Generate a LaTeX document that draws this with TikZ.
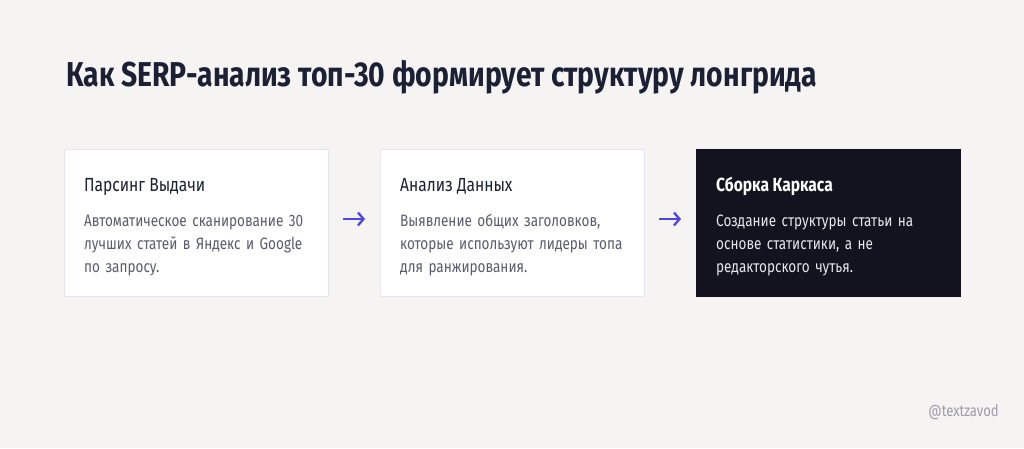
\documentclass[tikz,border=0pt]{standalone}
\usepackage{fontspec}
\setmainfont{Fira Sans}[FakeStretch=0.82]
\usetikzlibrary{arrows.meta,positioning}
\definecolor{canvas}{HTML}{F5F4F2}
\definecolor{cardline}{HTML}{E4E4F2}
\definecolor{darkcard}{HTML}{13131F}
\definecolor{ink}{HTML}{1B2035}
\definecolor{muted}{HTML}{5B5B6E}
\definecolor{lightmuted}{HTML}{E6E6EE}
\definecolor{accent}{HTML}{4F46E5}
\definecolor{tag}{HTML}{9E9CAD}
\begin{document}
\begin{tikzpicture}[x=1pt,y=-1pt,
	node distance=52pt,
	card/.style = {rectangle, draw=cardline, fill=white, line width=0.8pt,% white step cards
		minimum width=264pt, minimum height=147pt,
		inner sep=0pt, outer sep=0pt},
	darkbox/.style = {card, draw=darkcard, fill=darkcard},
	cardtitle/.style = {anchor=base west, inner sep=0pt,
		font=\fontsize{19}{23}\selectfont, text=ink},
	cardtext/.style = {anchor=base west, inner sep=0pt, text width=240pt, align=left,
		font=\fontsize{16.5}{23}\selectfont, text=muted},
	flow/.style = {draw=accent, line width=2.3pt,
		-{Straight Barb[length=5.5pt,width=13pt]},
		shorten <=15pt, shorten >=15pt},
	]
	\fill[canvas] (0,0) rectangle (1024,448);
	\useasboundingbox (0,0) rectangle (1024,448);
	% heading
	\node[anchor=base west, inner sep=0pt, text=ink,
		font=\fontsize{34.5}{40}\selectfont\bfseries] (head) at (66,86)
		{Как SERP-анализ топ-30 формирует структуру лонгрида};
	% the three cards
	\node[card, anchor=north west] (pars) at (64,149) {};
	\node[card, right=of pars] (anal) {};
	\node[darkbox, right=of anal] (build) {};
	\node[cardtitle] (pars-t) at ([shift={(20,42)}]pars.north west) {Парсинг Выдачи};
	\node[cardtext] (pars-b) at ([shift={(20,77)}]pars.north west)
		{Автоматическое сканирование 30\\лучших статей в Яндекс и Google\\по запросу.};
	\node[cardtitle] (anal-t) at ([shift={(20,42)}]anal.north west) {Анализ Данных};
	\node[cardtext] (anal-b) at ([shift={(20,77)}]anal.north west)
		{Выявление общих заголовков,\\которые используют лидеры топа\\для ранжирования.};
	\node[cardtitle, text=white, font=\fontsize{19}{23}\selectfont\bfseries] (build-t)
		at ([shift={(20,42)}]build.north west) {Сборка Каркаса};
	\node[cardtext, text=lightmuted] (build-b) at ([shift={(20,77)}]build.north west)
		{Создание структуры статьи на\\основе статистики, а не\\редакторского чутья.};
	% arrows
	\foreach \a/\b in {pars/anal, anal/build}
	\draw[flow] ([yshift=3.5pt]\a.east) -- ([yshift=3.5pt]\b.west);
	% signature
	\node[anchor=base east, inner sep=0pt, text=tag,
		font=\fontsize{16}{18}\selectfont] (sign) at (999,416) {@textzavod};
\end{tikzpicture}
\end{document}
